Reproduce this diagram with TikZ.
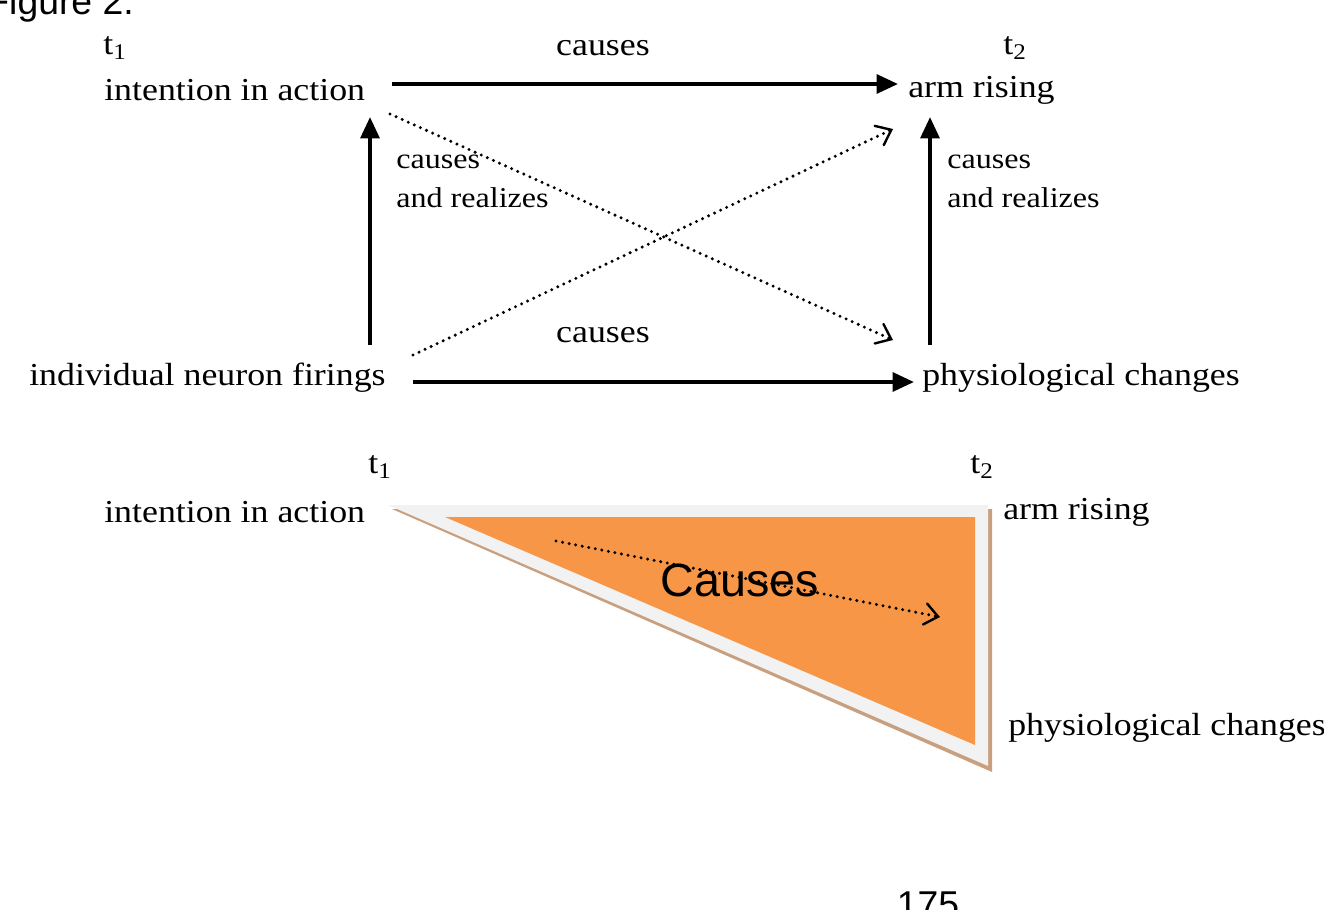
\documentclass[tikz,border=0pt]{standalone}
\usepackage{fontspec}
\setmainfont{Liberation Serif}[FakeStretch=1.12]
\setsansfont{Liberation Sans}
\usetikzlibrary{arrows.meta}
\begin{document}
\begin{tikzpicture}[x=0.75pt,y=-0.75pt,
  lbl/.style={font=\fontsize{24}{27}\selectfont, inner sep=0pt},
  lbll/.style={lbl, anchor=west},
  sm/.style={font=\fontsize{21.5}{29}\selectfont, inner sep=0pt, anchor=north west, align=left},
  solidarr/.style={line width=3pt, -{Triangle[length=16pt,width=14pt]}},
  dotpat/.style={line width=2.5pt, line cap=round, dash pattern=on 0pt off 5pt},
  dotarr/.style={dotpat, -{Straight Barb[length=10pt,width=16pt,line width=1.8pt,line cap=round]}}]
\useasboundingbox (0,0) rectangle (1324,910);
\clip (0,0) rectangle (1324,910);
% top diagram
\node[font=\sffamily\fontsize{28}{30}\selectfont, anchor=east, inner sep=0pt] (fig) at (134,5) {Figure 2.};
\node[lbl] (ta) at (115,48) {t\textsubscript{1}};
\node[lbl] (tb) at (1015,48) {t\textsubscript{2}};
\node[lbll] (ia) at (104,90) {intention in action};
\node[lbll] (ar) at (908,90) {arm rising};
\node[lbll] (nf) at (29,378) {individual neuron firings};
\node[lbll] (pc) at (922,378) {physiological changes};
\node[lbl] (c1) at (603,48) {causes};
\node[lbl] (c2) at (603,335) {causes};
\node[sm] (cr1) at (396,155) {causes\\and realizes};
\node[sm] (cr2) at (947,155) {causes\\and realizes};
\coordinate (a1) at (392,84); \coordinate (a2) at (898,84);
\coordinate (b1) at (413,382); \coordinate (b2) at (914,382);
\coordinate (l1) at (370,345); \coordinate (l2) at (370,117);
\coordinate (r1) at (930,345); \coordinate (r2) at (930,117);
\coordinate (d1) at (390,114); \coordinate (d2) at (893,340);
\coordinate (e1) at (413,355); \coordinate (e2) at (893,129);
\draw[solidarr] (a1) -- (a2);
\draw[solidarr] (b1) -- (b2);
\draw[solidarr] (l1) -- (l2);
\draw[solidarr] (r1) -- (r2);
\draw[dotarr] (d1) -- (d2);
\draw[dotarr] (e1) -- (e2);
% bottom diagram
\fill[fill={rgb,255:red,200;green,160;blue,128}] (392,509) -- (992,509) -- (992,772) -- cycle;
\fill[fill={rgb,255:red,242;green,242;blue,242}] (388,505) -- (988,505) -- (988,766) -- cycle;
\fill[fill={rgb,255:red,247;green,150;blue,70}] (445,517) -- (975,517) -- (975,745) -- cycle;
\node[lbl] (tc) at (380,467) {t\textsubscript{1}};
\node[lbl] (td) at (982,467) {t\textsubscript{2}};
\node[lbll] (ia2) at (104,512) {intention in action};
\node[lbll] (ar2) at (1003,512) {arm rising};
\node[lbll] (pc2) at (1008,728) {physiological changes};
\node[font=\sffamily\fontsize{35}{38}\selectfont, inner sep=0pt] (cs) at (740,580) {Causes};
\coordinate (f1) at (556,541); \coordinate (f2) at (940,617);
\draw[dotarr] (f1) -- (f2);
\node[font=\sffamily\fontsize{28}{30}\selectfont, inner sep=0pt] (pg) at (928,905) {175};
\end{tikzpicture}
\end{document}
